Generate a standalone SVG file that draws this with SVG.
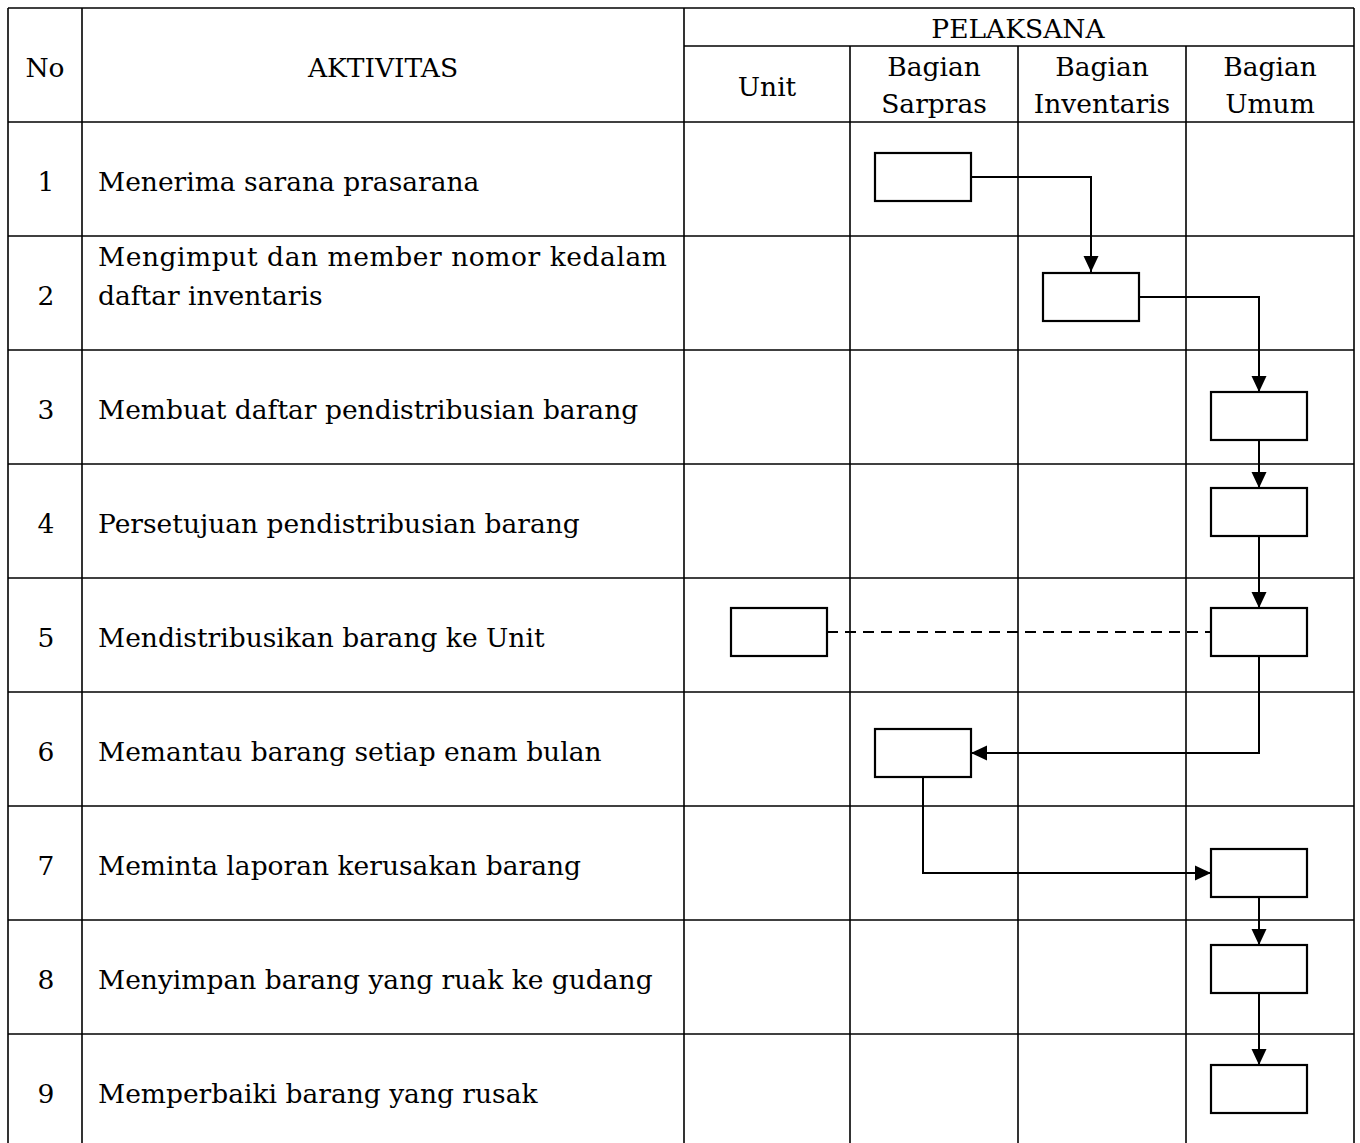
<svg xmlns="http://www.w3.org/2000/svg" width="1360" height="1143" viewBox="0 0 1360 1143">
<style>
.grid{stroke:#000;stroke-width:1.6;fill:none}
.box{fill:#fff;stroke:#000;stroke-width:2.2}
.conn{stroke:#000;stroke-width:2;fill:none}
.dash{stroke:#000;stroke-width:2.2;fill:none;stroke-dasharray:11 7}
text{font-family:"DejaVu Serif","Liberation Serif",serif;font-size:26.5px;fill:#000}
.c{text-anchor:middle}
</style>
<defs>
<marker id="arr" markerUnits="userSpaceOnUse" markerWidth="17" markerHeight="17" refX="16" refY="8" orient="auto">
<path d="M0,0.5 L16,8 L0,15.5 Z" fill="#000"/>
</marker>
</defs>
<rect width="1360" height="1143" fill="#fff"/>
<g id="table" class="grid">
<line x1="8" y1="8" x2="1354" y2="8"/>
<line x1="684" y1="46" x2="1354" y2="46"/>
<line x1="8" y1="122" x2="1354" y2="122"/>
<line x1="8" y1="236" x2="1354" y2="236"/>
<line x1="8" y1="350" x2="1354" y2="350"/>
<line x1="8" y1="464" x2="1354" y2="464"/>
<line x1="8" y1="578" x2="1354" y2="578"/>
<line x1="8" y1="692" x2="1354" y2="692"/>
<line x1="8" y1="806" x2="1354" y2="806"/>
<line x1="8" y1="920" x2="1354" y2="920"/>
<line x1="8" y1="1034" x2="1354" y2="1034"/>
<line x1="8" y1="8" x2="8" y2="1143"/>
<line x1="82" y1="8" x2="82" y2="1143"/>
<line x1="684" y1="8" x2="684" y2="1143"/>
<line x1="850" y1="46" x2="850" y2="1143"/>
<line x1="1018" y1="46" x2="1018" y2="1143"/>
<line x1="1186" y1="46" x2="1186" y2="1143"/>
<line x1="1354" y1="8" x2="1354" y2="1143"/>
</g>
<g id="header">
<text class="c" x="45" y="77">No</text>
<text class="c" x="383" y="77">AKTIVITAS</text>
<text class="c" x="1018" y="38">PELAKSANA</text>
<text class="c" x="767" y="96">Unit</text>
<text class="c" x="934" y="76">Bagian</text>
<text class="c" x="934" y="113">Sarpras</text>
<text class="c" x="1102" y="76">Bagian</text>
<text class="c" x="1102" y="113">Inventaris</text>
<text class="c" x="1270" y="76">Bagian</text>
<text class="c" x="1270" y="113">Umum</text>
</g>
<g id="rows">
<text class="c" x="46" y="191">1</text>
<text x="98" y="191">Menerima sarana prasarana</text>
<text class="c" x="46" y="305">2</text>
<text x="98" y="266" textLength="569">Mengimput dan member nomor kedalam</text>
<text x="98" y="305">daftar inventaris</text>
<text class="c" x="46" y="419">3</text>
<text x="98" y="419">Membuat daftar pendistribusian barang</text>
<text class="c" x="46" y="533">4</text>
<text x="98" y="533">Persetujuan pendistribusian barang</text>
<text class="c" x="46" y="647">5</text>
<text x="98" y="647">Mendistribusikan barang ke Unit</text>
<text class="c" x="46" y="761">6</text>
<text x="98" y="761">Memantau barang setiap enam bulan</text>
<text class="c" x="46" y="875">7</text>
<text x="98" y="875">Meminta laporan kerusakan barang</text>
<text class="c" x="46" y="989">8</text>
<text x="98" y="989">Menyimpan barang yang ruak ke gudang</text>
<text class="c" x="46" y="1103">9</text>
<text x="98" y="1103">Memperbaiki barang yang rusak</text>
</g>
<g id="connectors">
<path class="conn" d="M971,177 H1091 V272" marker-end="url(#arr)"/>
<path class="conn" d="M1139,297 H1259 V392" marker-end="url(#arr)"/>
<path class="conn" d="M1259,440 V488" marker-end="url(#arr)"/>
<path class="conn" d="M1259,536 V608" marker-end="url(#arr)"/>
<path class="dash" d="M827,632 H1211"/>
<path class="conn" d="M1259,656 V753 H971" marker-end="url(#arr)"/>
<path class="conn" d="M923,777 V873 H1211" marker-end="url(#arr)"/>
<path class="conn" d="M1259,897 V945" marker-end="url(#arr)"/>
<path class="conn" d="M1259,993 V1065" marker-end="url(#arr)"/>
</g>
<g id="n1"><rect class="box" x="875" y="153" width="96" height="48"/></g>
<g id="n2"><rect class="box" x="1043" y="273" width="96" height="48"/></g>
<g id="n3"><rect class="box" x="1211" y="392" width="96" height="48"/></g>
<g id="n4"><rect class="box" x="1211" y="488" width="96" height="48"/></g>
<g id="n5-umum"><rect class="box" x="1211" y="608" width="96" height="48"/></g>
<g id="n5-unit"><rect class="box" x="731" y="608" width="96" height="48"/></g>
<g id="n6"><rect class="box" x="875" y="729" width="96" height="48"/></g>
<g id="n7"><rect class="box" x="1211" y="849" width="96" height="48"/></g>
<g id="n8"><rect class="box" x="1211" y="945" width="96" height="48"/></g>
<g id="n9"><rect class="box" x="1211" y="1065" width="96" height="48"/></g>
</svg>
